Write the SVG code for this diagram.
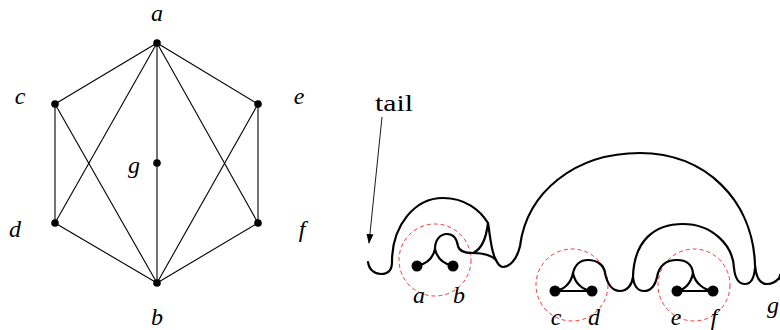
<svg xmlns="http://www.w3.org/2000/svg" width="780" height="330" viewBox="0 0 780 330">
<style>
.lbl{font-family:'Liberation Serif',serif;font-style:italic;font-size:24px;fill:#000;text-anchor:middle}
.txt{font-family:'Liberation Serif',serif;font-size:23px;fill:#000}
.edge{stroke:#000;stroke-width:1.1;fill:none}
.knot{stroke:#000;stroke-width:2.2;fill:none;stroke-linecap:round;stroke-linejoin:round}
.ring{stroke:#ff0000;stroke-width:0.8;fill:none;stroke-dasharray:4 3}
.dot{fill:#000}
</style>
<defs>
<marker id="arr" viewBox="0 0 10 10" refX="9" refY="5" markerWidth="10" markerHeight="10" markerUnits="userSpaceOnUse" orient="auto">
<path d="M0,1.5 L10,5 L0,8.5 Z" fill="#000"/>
</marker>
</defs>

<g id="graph-edges">
<line class="edge" x1="157" y1="43" x2="55" y2="104"/>
<line class="edge" x1="157" y1="43" x2="258" y2="104"/>
<line class="edge" x1="157" y1="43" x2="55" y2="223"/>
<line class="edge" x1="157" y1="43" x2="258" y2="223"/>
<line class="edge" x1="157" y1="43" x2="157" y2="283"/>
<line class="edge" x1="55" y1="104" x2="55" y2="223"/>
<line class="edge" x1="258" y1="104" x2="258" y2="223"/>
<line class="edge" x1="55" y1="104" x2="157" y2="283"/>
<line class="edge" x1="258" y1="104" x2="157" y2="283"/>
<line class="edge" x1="55" y1="223" x2="157" y2="283"/>
<line class="edge" x1="258" y1="223" x2="157" y2="283"/>
</g>
<g id="node-a"><circle class="dot" cx="157" cy="43" r="3.8"/><text class="lbl" x="157" y="21" font-family="Liberation Serif">a</text></g>
<g id="node-c"><circle class="dot" cx="55" cy="104" r="3.8"/><text class="lbl" x="20" y="104">c</text></g>
<g id="node-e"><circle class="dot" cx="258" cy="104" r="3.8"/><text class="lbl" x="299" y="104">e</text></g>
<g id="node-g"><circle class="dot" cx="157" cy="163" r="3.8"/><text class="lbl" x="134" y="173">g</text></g>
<g id="node-d"><circle class="dot" cx="55" cy="223" r="3.8"/><text class="lbl" x="15" y="237">d</text></g>
<g id="node-f"><circle class="dot" cx="258" cy="223" r="3.8"/><text class="lbl" x="302" y="237">f</text></g>
<g id="node-b"><circle class="dot" cx="157" cy="283" r="3.8"/><text class="lbl" x="157" y="325">b</text></g>

<g id="tail">
<text class="txt" x="375" y="111" textLength="38" lengthAdjust="spacingAndGlyphs">tail</text>
<line x1="382" y1="117" x2="369" y2="243" stroke="#000" stroke-width="0.9" marker-end="url(#arr)"/>
</g>

<g id="rings">
<circle class="ring" cx="435" cy="260" r="36"/>
<circle class="ring" cx="572" cy="285" r="36"/>
<circle class="ring" cx="694" cy="285" r="36"/>
</g>

<g id="knot">
<path class="knot" d="M368,262 C369,270 375,274 381,274 C388,274 392,270 392,262 C392,225 415,198 443,198 C465,198 480,210 488,223 C490,235 491,250 495,258 C498,265 500,267 503,267 C509,267 517,260 520,246 C527,192 575,153 640,153 C705,153 753,200 755,265 C756,278 760,284 767,284 C773,284 777,281 780,277"/>
<path class="knot" d="M435,249 C435,240 440,234 447,234 C454,234 457,240 458,246 C459,251 464,253 473,253"/>
<path class="knot" d="M435,249 C433,258 426,264 417,266"/>
<path class="knot" d="M435,249 C437,258 444,264 453,266"/>
<path class="knot" d="M473,253 C480,250 486,240 488,223"/>
<path class="knot" d="M473,253 C482,253 490,254 496,260"/>
<path class="knot" d="M573,273 C575,265 580,260 588,260 C597,260 604,265 605,273 C607,283 612,291 620,291 C627,291 632,285 633,277 C634,240 655,224 683,224 C712,224 733,245 734,268 C735,278 739,284 745,284 C750,284 754,280 755,268"/>
<path class="knot" d="M573,273 C571,284 563,290 555,291"/>
<path class="knot" d="M573,273 C575,284 583,290 592,291"/>
<path class="knot" d="M633,277 C634,286 638,291 644,291 C651,291 655,286 657,277 C659,266 666,260 677,260 C687,260 692,265 693,273"/>
<path class="knot" d="M693,273 C691,284 684,290 677,291"/>
<path class="knot" d="M693,273 C695,284 705,290 713,291"/>
<line class="knot" x1="555" y1="291" x2="592" y2="291"/>
<line class="knot" x1="677" y1="291" x2="713" y2="291"/>
</g>

<g id="knot-a"><circle class="dot" cx="417" cy="266" r="5.5"/><text class="lbl" x="419" y="303">a</text></g>
<g id="knot-b"><circle class="dot" cx="453" cy="266" r="5.5"/><text class="lbl" x="459" y="303">b</text></g>
<g id="knot-c"><circle class="dot" cx="555" cy="291" r="5.5"/><text class="lbl" x="556" y="325">c</text></g>
<g id="knot-d"><circle class="dot" cx="592" cy="291" r="5.5"/><text class="lbl" x="594" y="325">d</text></g>
<g id="knot-e"><circle class="dot" cx="677" cy="291" r="5.5"/><text class="lbl" x="676" y="325">e</text></g>
<g id="knot-f"><circle class="dot" cx="713" cy="291" r="5.5"/><text class="lbl" x="714" y="325">f</text></g>
<g id="knot-g"><circle class="dot" cx="784" cy="277" r="5.5"/><text class="lbl" x="773" y="313">g</text></g>
</svg>
